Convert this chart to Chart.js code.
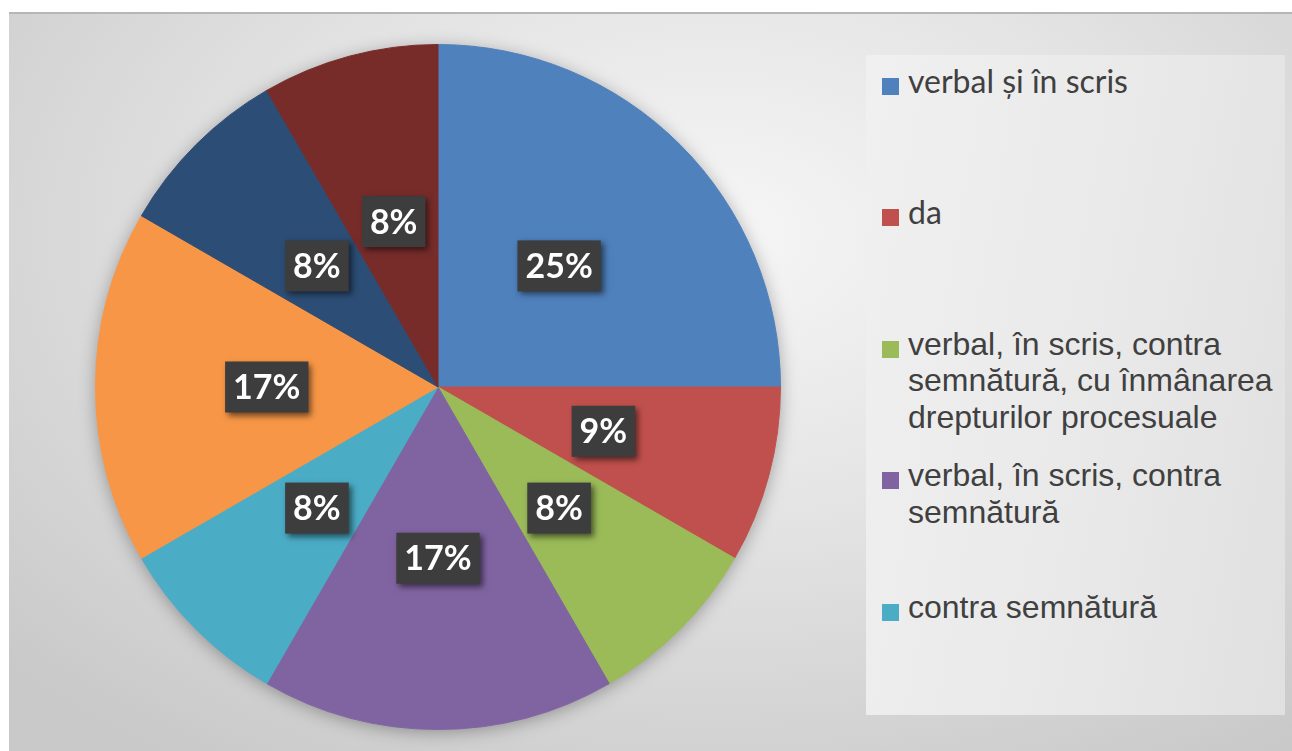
<!DOCTYPE html>
<html>
<head>
<meta charset="utf-8">
<script src="https://cdn.jsdelivr.net/npm/chart.js@4/dist/chart.umd.min.js"></script>
<style>
  html, body { margin: 0; padding: 0; background: #fff; }
  body { width: 1292px; height: 751px; position: relative; overflow: hidden; }
  #frame {
    position: absolute; left: 9px; top: 12px; width: 1283px; height: 739px;
    box-sizing: border-box; border-top: 2px solid #b6b6b6;
    background: radial-gradient(ellipse 75% 85% at 55% 30%, #f6f6f6 0%, #e4e4e4 45%, #c9c9c9 100%);
  }
  #wrap { position: absolute; left: 0; top: -2px; width: 1283px; height: 739px; }
  #legend {
    position: absolute; left: 857px; top: 41px; width: 419px; height: 660px;
    background: linear-gradient(100deg, #f0f0f0 0%, #e9e9e9 55%, #e0e0e0 100%);
    font-family: "Liberation Sans", Arial, sans-serif; font-size: 32px; color: #404040;
  }
  .item { position: absolute; left: 16px; width: 395px; line-height: 36.7px; }
  .item .sw { position: absolute; left: 0; top: 15px; width: 17px; height: 17px; }
  .item .tx { position: absolute; left: 26px; width: 372px; }
  .item.calibri { font-family: Lato, "Liberation Sans", sans-serif; }
</style>
</head>
<body>
<div id="frame">
  <div id="wrap"><canvas id="pie"></canvas></div>
  <div id="legend"></div>
</div>
<script>
// categories in drawing order (clockwise from 12 o'clock)
const categories = [
  'verbal și în scris',
  'da',
  'verbal, în scris, contra semnătură, cu înmânarea drepturilor procesuale',
  'verbal, în scris, contra semnătură',
  'contra semnătură',
  'categoria 6',
  'categoria 7',
  'categoria 8'
];
// number of answers per category (slice angles: 90, 30, 30, 60, 30, 60, 30, 30 degrees)
const answers = [3, 1, 1, 2, 1, 2, 1, 1];
// percentage labels as printed on the slices
const pctLabels = ['25%', '9%', '8%', '17%', '8%', '17%', '8%', '8%'];
const sliceColors = ['#4f81bd', '#c0504d', '#9bbb59', '#8064a2', '#4bacc6', '#f79646', '#2c4d75', '#772c2a'];
// the original legend only shows the first five entries
const legendShown = 5;

// soft shadow under the whole pie
const pieShadow = {
  id: 'pieShadow',
  beforeDatasetsDraw(chart) {
    const arc = chart.getDatasetMeta(0).data[0];
    if (!arc) return;
    const ctx = chart.ctx;
    ctx.save();
    ctx.shadowColor = 'rgba(0,0,0,0.35)';
    ctx.shadowBlur = 18;
    ctx.shadowOffsetY = 3;
    ctx.fillStyle = '#888';
    ctx.beginPath();
    ctx.arc(arc.x, arc.y, arc.outerRadius - 1, 0, Math.PI * 2);
    ctx.fill();
    ctx.restore();
  }
};

// dark boxes with the percentage in the middle of each slice
const boxLabels = {
  id: 'boxLabels',
  afterDatasetsDraw(chart) {
    const ctx = chart.ctx;
    ctx.save();
    ctx.font = 'bold 34px Lato';
    ctx.textAlign = 'center';
    ctx.textBaseline = 'alphabetic';
    chart.getDatasetMeta(0).data.forEach((arc, i) => {
      const p = arc.getCenterPoint(true);
      const txt = pctLabels[i];
      const w = ctx.measureText(txt).width + 16;
      const h = 51;
      ctx.shadowColor = 'rgba(0,0,0,0.55)';
      ctx.shadowBlur = 6;
      ctx.shadowOffsetX = 3;
      ctx.shadowOffsetY = 3;
      ctx.fillStyle = '#3d3d3d';
      ctx.fillRect(p.x - w / 2, p.y - h / 2, w, h);
      ctx.shadowColor = 'transparent';
      ctx.fillStyle = '#ffffff';
      ctx.fillText(txt, p.x, p.y + 12);
    });
    ctx.restore();
  }
};

const chart = new Chart(document.getElementById('pie').getContext('2d'), {
  type: 'pie',
  data: {
    labels: categories,
    datasets: [{
      data: answers,
      backgroundColor: sliceColors,
      borderColor: sliceColors,
      borderWidth: 1
    }]
  },
  options: {
    responsive: true,
    maintainAspectRatio: false,
    animation: false,
    layout: { padding: { left: 86, top: 32, right: 511, bottom: 21 } },
    plugins: {
      legend: { display: false },
      tooltip: { enabled: false }
    }
  },
  plugins: [pieShadow, boxLabels]
});

// html legend built from the same arrays
const legendEl = document.getElementById('legend');
for (let i = 0; i < legendShown; i++) {
  const item = document.createElement('div');
  item.className = 'item' + (i < 2 ? ' calibri' : '');
  item.style.top = (7.5 + i * 131.5) + 'px';
  const sw = document.createElement('span');
  sw.className = 'sw';
  sw.style.background = sliceColors[i];
  const tx = document.createElement('div');
  tx.className = 'tx';
  tx.textContent = categories[i];
  item.appendChild(sw);
  item.appendChild(tx);
  legendEl.appendChild(item);
}
</script>
</body>
</html>
